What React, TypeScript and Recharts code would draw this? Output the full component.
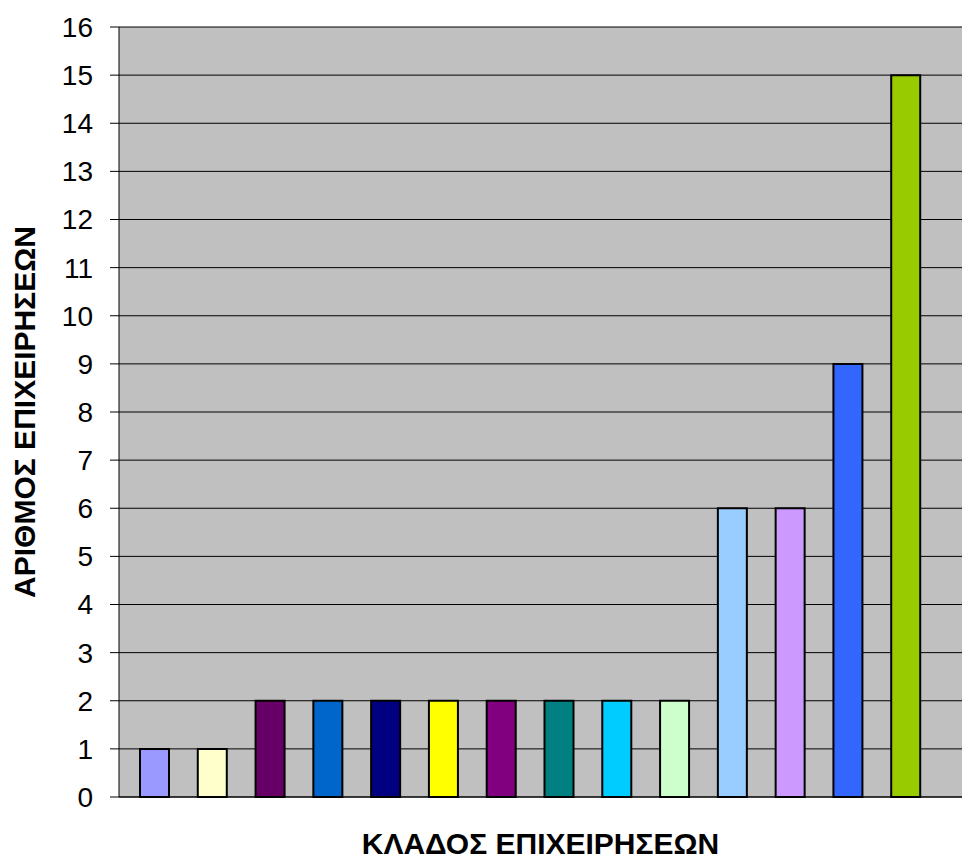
import React from "react";
import { BarChart, Bar, XAxis, YAxis, CartesianGrid, Cell, Label } from "recharts";

// sectors are not labelled on the chart, so generic names
const sectors = [
  "Κλάδος 1", "Κλάδος 2", "Κλάδος 3", "Κλάδος 4", "Κλάδος 5", "Κλάδος 6", "Κλάδος 7",
  "Κλάδος 8", "Κλάδος 9", "Κλάδος 10", "Κλάδος 11", "Κλάδος 12", "Κλάδος 13", "Κλάδος 14",
];
const counts = [1, 1, 2, 2, 2, 2, 2, 2, 2, 2, 6, 6, 9, 15];
const barColors = [
  "#9999FF", "#FFFFCC", "#660066", "#0066CC", "#000080", "#FFFF00", "#800080",
  "#008080", "#00CCFF", "#CCFFCC", "#99CCFF", "#CC99FF", "#3366FF", "#99CC00",
];
const yTicks = [0, 1, 2, 3, 4, 5, 6, 7, 8, 9, 10, 11, 12, 13, 14, 15, 16];

const FONT = "'Liberation Sans', Arial, sans-serif";

export default function App() {
  const data = sectors.map((s, i) => ({ sector: s, count: counts[i] }));

  return (
    <div style={{ position: "absolute", left: 0, top: 0, width: 962, height: 861, background: "#fff" }}>
      <BarChart
        width={962}
        height={861}
        data={data}
        margin={{ top: 27, right: 0, bottom: 0, left: 0 }}
      >
        <CartesianGrid vertical={false} fill="#C0C0C0" stroke="#000" strokeWidth={1} />
        <XAxis
          dataKey="sector"
          height={64}
          tick={false}
          tickLine={false}
          axisLine={{ stroke: "#000" }}
          padding={{ left: 7, right: 27 }}
        >
          <Label
            content={(props: any) => {
              const vb = props.viewBox || { x: 119, width: 843 };
              return (
                <text
                  x={vb.x + vb.width / 2}
                  y={854}
                  textAnchor="middle"
                  style={{ fontFamily: FONT, fontSize: 30, fontWeight: "bold", fill: "#000" }}
                >
                  ΚΛΑΔΟΣ ΕΠΙΧΕΙΡΗΣΕΩΝ
                </text>
              );
            }}
          />
        </XAxis>
        <YAxis
          width={119}
          domain={[0, 16]}
          ticks={yTicks}
          interval={0}
          tickSize={9}
          tickMargin={17}
          axisLine={{ stroke: "#000" }}
          tickLine={{ stroke: "#000" }}
          tick={{ fill: "#000", fontSize: 28, fontFamily: FONT }}
        >
          <Label
            content={(props: any) => {
              const vb = props.viewBox || { x: 0, y: 27, height: 770 };
              const cx = 35;
              const cy = vb.y + vb.height / 2;
              return (
                <text
                  x={cx}
                  y={cy}
                  transform={`rotate(-90, ${cx}, ${cy})`}
                  textAnchor="middle"
                  style={{ fontFamily: FONT, fontSize: 30, fontWeight: "bold", fill: "#000" }}
                >
                  ΑΡΙΘΜΟΣ ΕΠΙΧΕΙΡΗΣΕΩΝ
                </text>
              );
            }}
          />
        </YAxis>
        <Bar dataKey="count" barSize={29} stroke="#000" strokeWidth={2} isAnimationActive={false}>
          {data.map((d, i) => (
            <Cell key={`cell-${i}`} fill={barColors[i]} />
          ))}
        </Bar>
      </BarChart>
    </div>
  );
}
